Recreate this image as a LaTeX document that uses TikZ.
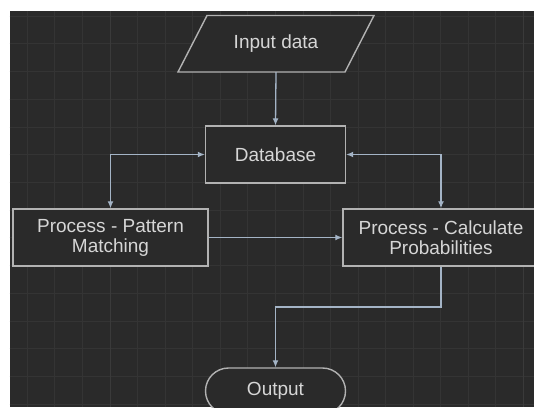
\documentclass[tikz,border=0pt]{standalone}
\usepackage{fontspec}
\setmainfont{Liberation Sans}
\usetikzlibrary{arrows.meta}
\definecolor{bgc}{HTML}{2A2A2A}
\definecolor{gridc}{HTML}{343434}
\definecolor{gridmaj}{HTML}{3A3A3A}
\definecolor{boxc}{HTML}{B2B2B2}
\definecolor{linec}{HTML}{A4B4C6}
\definecolor{txtc}{HTML}{D6D6D6}
\tikzset{
  boxnode/.style={draw=boxc, line width=1.4pt, fill=bgc, text=txtc, minimum height=57pt, align=center, inner sep=0pt, font=\fontsize{19}{20}\selectfont},
  conn/.style={draw=linec, line width=1.3pt, -{Latex[length=7pt,width=6pt]}},
  bconn/.style={draw=linec, line width=1.3pt, {Latex[length=7pt,width=6pt]}-{Latex[length=7pt,width=6pt]}}
}
\begin{document}
\begin{tikzpicture}[x=1pt,y=-1pt]
\useasboundingbox (0,0) rectangle (534,407);
\fill[white] (0,0) rectangle (534,407);
\begin{scope}
\clip (9.5,11) rectangle (534,407);
\fill[bgc] (9.5,11) rectangle (534,407);
\foreach \i in {1,...,19} {
  \draw[gridc, line width=0.8pt] ({-0.26+27.56*\i},11) -- ({-0.26+27.56*\i},407);
}
\foreach \i in {0,...,14} {
  \draw[gridc, line width=0.8pt] (9.5,{16+27.73*\i}) -- (534,{16+27.73*\i});
}
\draw[gridmaj, line width=0.9pt] (110.3,11) -- (110.3,407);
\draw[gridmaj, line width=0.9pt] (523.3,11) -- (523.3,407);

% input parallelogram
\draw[draw=boxc, line width=1.4pt, fill=bgc] (178,72) -- (207,15.5) -- (374,15.5) -- (345,72) -- cycle;
\node[text=txtc, font=\fontsize{19}{20}\selectfont, minimum width=140pt, minimum height=56.5pt, inner sep=0pt] (in) at (276,43.75) {Input data};

\node[boxnode, minimum width=140pt] (db) at (275.5,154.5) {Database};
\node[boxnode, minimum width=195pt] (pm) at (110.5,237.5) {Process - Pattern\\Matching};
\node[boxnode, minimum width=196pt] (cp) at (441,237.5) {Process - Calculate\\Probabilities};
\node[boxnode, minimum width=140pt, minimum height=46pt, rounded corners=23pt] (out) at (275.5,391) {Output};

\coordinate (bend) at (441,307);
\draw[conn] (in.south) -- (db.north);
\draw[bconn] (db.west) -| (pm.north);
\draw[bconn] (db.east) -| (cp.north);
\draw[conn] (pm.east) -- (cp.west);
\draw[conn] (cp.south) -- (bend) -| (out.north);
\end{scope}
\end{tikzpicture}
\end{document}
